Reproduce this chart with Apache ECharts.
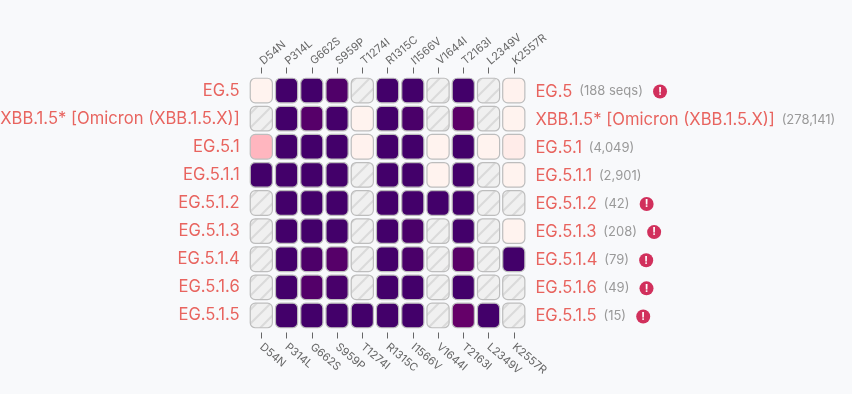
<!DOCTYPE html>
<html>
<head>
<meta charset="utf-8">
<style>
  html, body { margin: 0; padding: 0; background: #f8f9fb; }
  #chart { width: 852px; height: 394px; }
</style>
<script src="https://cdn.jsdelivr.net/npm/echarts@6/dist/echarts.min.js"></script>
</head>
<body>
<div id="chart"></div>
<script>
const mutations = ['D54N', 'P314L', 'G662S', 'S959P', 'T1274I', 'R1315C', 'I1566V', 'V1644I', 'T2163I', 'L2349V', 'K2557R']
const lineages = ['EG.5', 'XBB.1.5* [Omicron (XBB.1.5.X)]', 'EG.5.1', 'EG.5.1.1', 'EG.5.1.2', 'EG.5.1.3', 'EG.5.1.4', 'EG.5.1.6', 'EG.5.1.5']
const counts = ['188 seqs', '278,141', '4,049', '2,901', '42', '208', '79', '49', '15']
const lowCount = [true, false, false, false, true, true, true, true, true]

// mutation frequency per lineage, null = no data (hatched)
const freqEG5 = [0.005, 0.99, 0.99, 0.9, null, 0.99, 0.99, null, 0.99, null, 0.01]
const freqXBB = [null, 0.99, 0.86, 0.98, 0.005, 0.99, 0.94, null, 0.82, null, 0.005]
const freqEG51 = [0.2, 0.99, 0.99, 0.99, 0.01, 0.99, 0.99, 0.005, 0.99, 0.005, 0.03]
const freqEG511 = [0.99, 0.99, 0.99, 0.99, null, 0.99, 0.99, 0.005, 0.99, null, 0.005]
const freqEG512 = [null, 0.99, 0.99, 0.99, null, 0.99, 0.99, 0.99, 0.99, null, null]
const freqEG513 = [null, 0.99, 0.99, 0.99, null, 0.99, 0.94, null, 0.99, null, 0.005]
const freqEG514 = [null, 0.99, 0.92, 0.86, null, 0.99, 0.94, null, 0.84, null, 0.99]
const freqEG516 = [null, 0.99, 0.88, 0.96, null, 0.99, 0.99, null, 0.99, null, null]
const freqEG515 = [null, 0.99, 0.99, 0.99, 0.99, 0.99, 0.99, null, 0.78, 0.99, null]
const freqRows = [freqEG5, freqXBB, freqEG51, freqEG511, freqEG512, freqEG513, freqEG514, freqEG516, freqEG515]

const fontFamily = 'Inter'
const labelRed = '#e8645f'

const cells = []
freqRows.forEach((row, y) => row.forEach((v, x) => cells.push([x, y, v === null ? -1 : v])))

// grey diagonal hatch for empty cells
const hatch = document.createElement('canvas')
hatch.width = 14
hatch.height = 14
const hc = hatch.getContext('2d')
hc.fillStyle = '#f0f0f0'
hc.fillRect(0, 0, 14, 14)
hc.strokeStyle = '#dadada'
hc.lineWidth = 2
;[[-7, 7, 7, -7], [0, 14, 14, 0], [7, 21, 21, 7]].forEach(l => {
    hc.beginPath()
    hc.moveTo(l[0], l[1])
    hc.lineTo(l[2], l[3])
    hc.stroke()
})

const colorStops = ['#fff5f0', '#ffb6bf', '#e0409a', '#a0006f', '#5e0068', '#42006a']
const cellFill = v => {
    if (v < 0) return { image: hatch, repeat: 'repeat' }
    return echarts.color.lerp(v, colorStops)
}

const chart = echarts.init(document.getElementById('chart'))

const mutationAxis = (gridIndex, position, margin) => ({
    type: 'category',
    gridIndex: gridIndex,
    data: mutations,
    position: position,
    offset: 3,
    axisLine: { show: false },
    axisTick: { show: true, alignWithLabel: true, length: 6, lineStyle: { color: '#666', width: 1 } },
    axisLabel: {
        // top axis also takes a negative rotate here to lean upwards
        rotate: -40,
        interval: 0,
        margin: margin,
        align: 'left',
        verticalAlign: 'middle',
        color: '#666',
        fontSize: 11,
        fontFamily: fontFamily
    },
    splitLine: { show: false }
})

const gridBox = { left: 248.7, top: 76.5, width: 277.7, height: 253, outerBoundsMode: 'none' }

chart.setOption({
    backgroundColor: '#f8f9fb',
    animation: false,
    grid: [gridBox, gridBox],
    xAxis: [mutationAxis(0, 'top', 11), mutationAxis(1, 'bottom', 13)],
    yAxis: [
        {
            type: 'category',
            gridIndex: 0,
            data: lineages,
            inverse: true,
            position: 'left',
            axisLine: { show: false },
            axisTick: { show: false },
            axisLabel: { interval: 0, margin: 9, padding: [2, 0, 0, 0], color: labelRed, fontSize: 16.6, fontFamily: fontFamily }
        },
        {
            type: 'category',
            gridIndex: 0,
            data: lineages,
            inverse: true,
            position: 'right',
            axisLine: { show: false },
            axisTick: { show: false },
            axisLabel: {
                interval: 0,
                margin: 9,
                padding: [2, 0, 0, 0],
                fontFamily: fontFamily,
                formatter: (name, i) => '{name|' + name + '}  {count|(' + counts[i] + ')}' + (lowCount[i] ? '   {warn|!}' : ''),
                rich: {
                    name: { color: labelRed, fontSize: 16.6, fontFamily: fontFamily },
                    count: { color: '#999', fontSize: 13, fontFamily: fontFamily },
                    warn: {
                        color: '#fff',
                        backgroundColor: '#d1305c',
                        borderRadius: 7,
                        width: 14,
                        height: 14,
                        lineHeight: 14,
                        align: 'center',
                        fontSize: 11,
                        fontWeight: 'bold',
                        fontFamily: fontFamily
                    }
                }
            }
        },
        { type: 'category', gridIndex: 1, data: lineages, inverse: true, show: false }
    ],
    series: [{
        type: 'custom',
        coordinateSystem: 'cartesian2d',
        xAxisIndex: 0,
        yAxisIndex: 0,
        data: cells,
        encode: { x: 0, y: 1 },
        silent: true,
        renderItem: (params, api) => {
            const c = api.coord([api.value(0), api.value(1)])
            const s = api.size([1, 1])
            const w = s[0] - 3.1
            const h = s[1] - 3.5
            return {
                type: 'rect',
                shape: { x: c[0] - w / 2, y: c[1] - h / 2, width: w, height: h, r: 5 },
                style: { fill: cellFill(api.value(2)), stroke: '#bdbdbd', lineWidth: 1.2 }
            }
        }
    }]
})
</script>
</body>
</html>
